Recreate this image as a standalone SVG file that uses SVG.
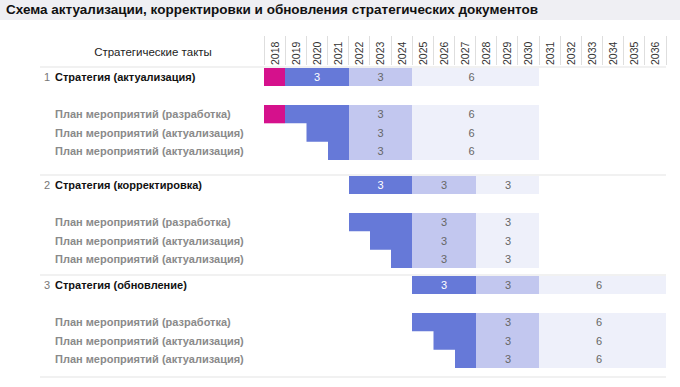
<svg xmlns="http://www.w3.org/2000/svg" width="680" height="387" viewBox="0 0 680 387">
<style>
.t{font-family:"Liberation Sans",Arial,sans-serif}
.title{font-size:13px;font-weight:bold;fill:#111}
.hd{font-size:11.5px;fill:#222}
.yr{font-size:10.5px;fill:#333}
.strat{font-size:11px;font-weight:bold;fill:#111}
.num{font-size:11px;fill:#777}
.plan{font-size:11px;font-weight:bold;fill:#8a8a8a}
.v{font-size:11px;fill:#666;text-anchor:middle}
.vw{font-size:11px;fill:#fff;text-anchor:middle}
.m{fill:#d5118c}
.d{fill:#6679d8}
.l{fill:#c2c7ef}
.x{fill:#eef0fa}
.sep{stroke:#e4e4e4;stroke-width:1.2}
.vs{stroke:#dedede;stroke-width:1}
</style>
<rect x="0" y="0" width="680" height="20" fill="#efeff3"/>
<text class="t title" x="6" y="14" textLength="532" lengthAdjust="spacingAndGlyphs">Схема актуализации, корректировки и обновления стратегических документов</text>

<g id="header">
<text class="t hd" x="153" y="56" text-anchor="middle">Стратегические такты</text>
<g class="vs">
<line x1="264.5" y1="36" x2="264.5" y2="65"/><line x1="285.5" y1="36" x2="285.5" y2="65"/><line x1="306.5" y1="36" x2="306.5" y2="65"/><line x1="327.5" y1="36" x2="327.5" y2="65"/><line x1="348.5" y1="36" x2="348.5" y2="65"/><line x1="369.5" y1="36" x2="369.5" y2="65"/><line x1="391.5" y1="36" x2="391.5" y2="65"/><line x1="412.5" y1="36" x2="412.5" y2="65"/><line x1="433.5" y1="36" x2="433.5" y2="65"/><line x1="454.5" y1="36" x2="454.5" y2="65"/><line x1="475.5" y1="36" x2="475.5" y2="65"/><line x1="496.5" y1="36" x2="496.5" y2="65"/><line x1="517.5" y1="36" x2="517.5" y2="65"/><line x1="539.5" y1="36" x2="539.5" y2="65"/><line x1="560.5" y1="36" x2="560.5" y2="65"/><line x1="581.5" y1="36" x2="581.5" y2="65"/><line x1="602.5" y1="36" x2="602.5" y2="65"/><line x1="623.5" y1="36" x2="623.5" y2="65"/><line x1="644.5" y1="36" x2="644.5" y2="65"/><line x1="666.5" y1="36" x2="666.5" y2="65"/>
</g>
<g class="t yr">
<text transform="translate(278.5,65) rotate(-90)">2018</text>
<text transform="translate(299.7,65) rotate(-90)">2019</text>
<text transform="translate(320.8,65) rotate(-90)">2020</text>
<text transform="translate(342,65) rotate(-90)">2021</text>
<text transform="translate(363.1,65) rotate(-90)">2022</text>
<text transform="translate(384.3,65) rotate(-90)">2023</text>
<text transform="translate(405.5,65) rotate(-90)">2024</text>
<text transform="translate(426.6,65) rotate(-90)">2025</text>
<text transform="translate(447.8,65) rotate(-90)">2026</text>
<text transform="translate(468.9,65) rotate(-90)">2027</text>
<text transform="translate(490.1,65) rotate(-90)">2028</text>
<text transform="translate(511.3,65) rotate(-90)">2029</text>
<text transform="translate(532.4,65) rotate(-90)">2030</text>
<text transform="translate(553.6,65) rotate(-90)">2031</text>
<text transform="translate(574.7,65) rotate(-90)">2032</text>
<text transform="translate(595.9,65) rotate(-90)">2033</text>
<text transform="translate(617.1,65) rotate(-90)">2034</text>
<text transform="translate(638.2,65) rotate(-90)">2035</text>
<text transform="translate(659.4,65) rotate(-90)">2036</text>
</g>
</g>

<g id="separators">
<line class="sep" x1="40" y1="67" x2="666" y2="67"/>
<line class="sep" x1="40" y1="175" x2="666" y2="175"/>
<line class="sep" x1="40" y1="275" x2="666" y2="275"/>
<line class="sep" x1="40" y1="377" x2="666" y2="377"/>
</g>

<g id="s1-strategy">
<text class="t num" x="44" y="81">1</text>
<text class="t strat" x="55" y="81">Стратегия (актуализация)</text>
<rect class="m" x="264" y="68" width="21" height="18"/>
<rect class="d" x="285" y="68" width="64" height="18"/>
<rect class="l" x="349" y="68" width="63" height="18"/>
<rect class="x" x="412" y="68" width="127" height="18"/>
<text class="t vw" x="317" y="81">3</text>
<text class="t v" x="380.5" y="81">3</text>
<text class="t v" x="471.5" y="81">6</text>
</g>
<g id="s1-plans">
<rect class="l" x="349" y="105" width="63" height="55"/>
<rect class="x" x="412" y="105" width="127" height="55"/>
<rect class="m" x="264" y="105" width="21" height="18.3"/>
<path class="d" d="M285,105 H349 V160 H328 V141.7 H306.5 V123.3 H285 Z"/>
<text class="t plan" x="55" y="118">План мероприятий (разработка)</text>
<text class="t plan" x="55" y="136.5">План мероприятий (актуализация)</text>
<text class="t plan" x="55" y="155">План мероприятий (актуализация)</text>
<text class="t v" x="380.5" y="118">3</text><text class="t v" x="471.5" y="118">6</text>
<text class="t v" x="380.5" y="136.5">3</text><text class="t v" x="471.5" y="136.5">6</text>
<text class="t v" x="380.5" y="155">3</text><text class="t v" x="471.5" y="155">6</text>
</g>

<g id="s2-strategy">
<text class="t num" x="44" y="189">2</text>
<text class="t strat" x="55" y="189">Стратегия (корректировка)</text>
<rect class="d" x="349" y="176" width="63" height="18"/>
<rect class="l" x="412" y="176" width="64" height="18"/>
<rect class="x" x="476" y="176" width="63" height="18"/>
<text class="t vw" x="380.5" y="189">3</text>
<text class="t v" x="444" y="189">3</text>
<text class="t v" x="508" y="189">3</text>
</g>
<g id="s2-plans">
<rect class="l" x="412" y="213" width="64" height="55"/>
<rect class="x" x="476" y="213" width="63" height="55"/>
<path class="d" d="M349,213 H412 V268 H391 V249.7 H370 V231.3 H349 Z"/>
<text class="t plan" x="55" y="226">План мероприятий (разработка)</text>
<text class="t plan" x="55" y="244.5">План мероприятий (актуализация)</text>
<text class="t plan" x="55" y="263">План мероприятий (актуализация)</text>
<text class="t v" x="444" y="226">3</text><text class="t v" x="508" y="226">3</text>
<text class="t v" x="444" y="244.5">3</text><text class="t v" x="508" y="244.5">3</text>
<text class="t v" x="444" y="263">3</text><text class="t v" x="508" y="263">3</text>
</g>

<g id="s3-strategy">
<text class="t num" x="44" y="289">3</text>
<text class="t strat" x="55" y="289">Стратегия (обновление)</text>
<rect class="d" x="412" y="276" width="64" height="18"/>
<rect class="l" x="476" y="276" width="63" height="18"/>
<rect class="x" x="539" y="276" width="127" height="18"/>
<text class="t vw" x="444" y="289">3</text>
<text class="t v" x="508" y="289">3</text>
<text class="t v" x="599" y="289">6</text>
</g>
<g id="s3-plans">
<rect class="l" x="476" y="313" width="63" height="55"/>
<rect class="x" x="539" y="313" width="127" height="55"/>
<path class="d" d="M412,313 H476 V368 H455 V349.7 H433.5 V331.3 H412 Z"/>
<text class="t plan" x="55" y="326">План мероприятий (разработка)</text>
<text class="t plan" x="55" y="344.5">План мероприятий (актуализация)</text>
<text class="t plan" x="55" y="363">План мероприятий (актуализация)</text>
<text class="t v" x="508" y="326">3</text><text class="t v" x="599" y="326">6</text>
<text class="t v" x="508" y="344.5">3</text><text class="t v" x="599" y="344.5">6</text>
<text class="t v" x="508" y="363">3</text><text class="t v" x="599" y="363">6</text>
</g>
</svg>
